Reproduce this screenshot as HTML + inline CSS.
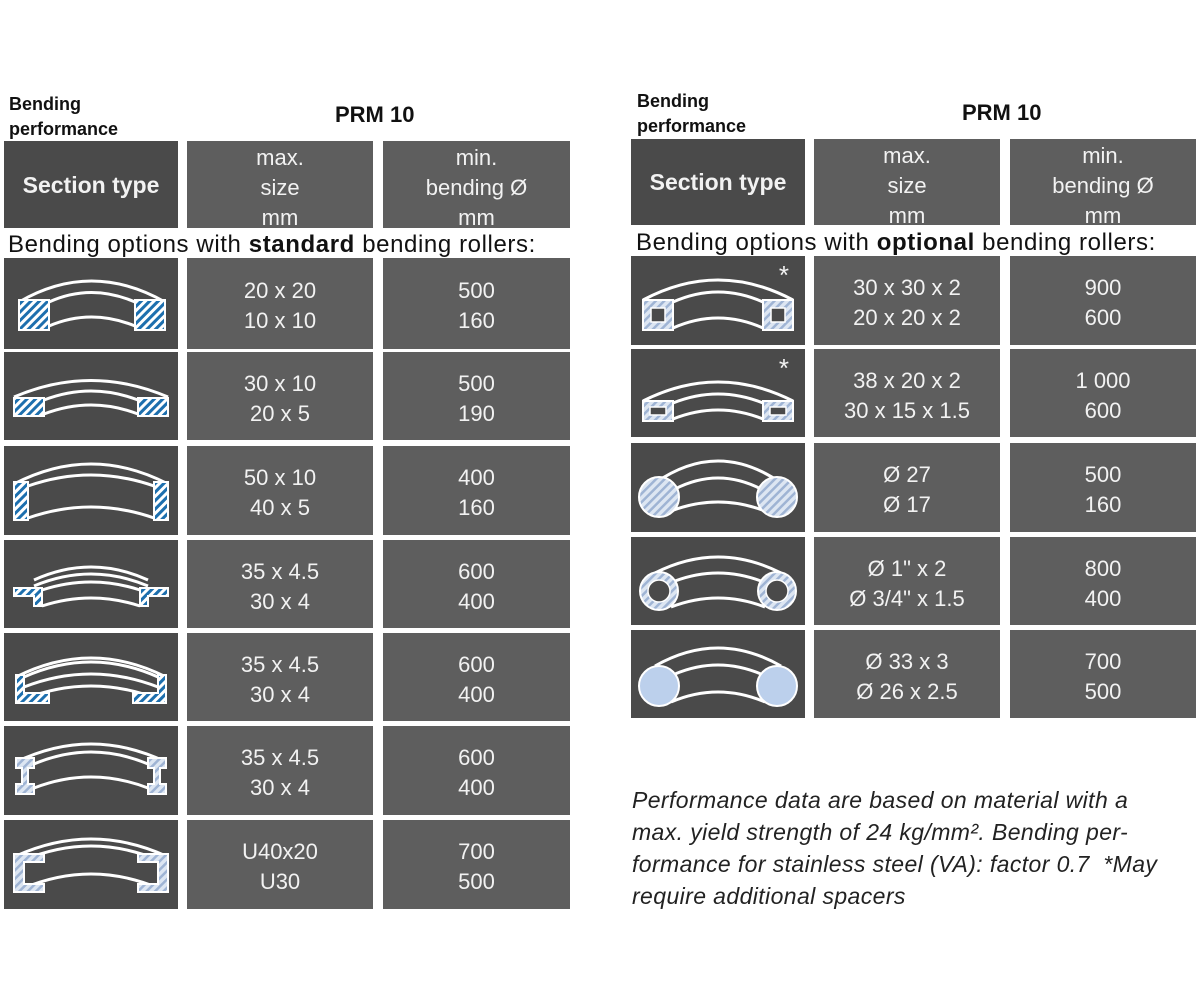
<!DOCTYPE html>
<html><head><meta charset="utf-8"><style>
*{margin:0;padding:0;box-sizing:border-box}
body{width:1200px;height:1000px;background:#fff;position:relative;overflow:hidden;font-family:"Liberation Sans",sans-serif}
.c{position:absolute;background:#5e5e5e;color:#f2f2f2;text-align:center;font-size:22px;line-height:30px;overflow:hidden;display:flex;flex-direction:column;justify-content:center;padding-top:5px}
.s{background:#4a4a4a;padding-top:0}
.h{font-weight:bold;font-size:23px}
.t{position:absolute;color:#111}
svg{position:absolute;left:0;top:0}
</style></head><body>
<svg width="0" height="0"><defs>
<pattern id="hb" width="6" height="6" patternUnits="userSpaceOnUse" patternTransform="rotate(45)"><rect width="6" height="6" fill="#fff"/><rect width="3" height="6" fill="#1d6fae"/></pattern>
<pattern id="hl" width="6" height="6" patternUnits="userSpaceOnUse" patternTransform="rotate(45)"><rect width="6" height="6" fill="#dde6f2"/><rect width="2.5" height="6" fill="#9fb4d4"/></pattern>
</defs></svg>

<div class="t" style="left:9px;top:92px;font-weight:bold;font-size:18px;line-height:25px">Bending<br>performance</div>
<div class="t" style="left:335px;top:102px;font-weight:bold;font-size:22px">PRM 10</div>
<div class="c s h" style="left:4px;top:141px;width:174px;height:87px">Section type</div>
<div class="c" style="left:187px;top:141px;width:186px;height:87px;justify-content:flex-start;padding-top:2px">max.<br>size<br>mm</div>
<div class="c" style="left:383px;top:141px;width:187px;height:87px;justify-content:flex-start;padding-top:2px">min.<br>bending Ø<br>mm</div>
<div class="t" style="left:8px;top:231px;font-size:24px;letter-spacing:0.6px">Bending options with <b>standard</b> bending rollers:</div>

<div class="c s" style="left:4px;top:258px;width:174px;height:91px"><svg width="174" height="91"><path d="M15,44 Q87,2 161,44" fill="none" stroke="#fff" stroke-width="3"/><path d="M45,44 Q87,25 131,44 M45,68 Q87,50 131,68" fill="none" stroke="#fff" stroke-width="3"/><rect x="15" y="42" width="30" height="30" fill="url(#hb)" stroke="#fff" stroke-width="2"/><rect x="131" y="42" width="30" height="30" fill="url(#hb)" stroke="#fff" stroke-width="2"/></svg></div>
<div class="c" style="left:187px;top:258px;width:186px;height:91px">20 x 20<br>10 x 10</div>
<div class="c" style="left:383px;top:258px;width:187px;height:91px">500<br>160</div>

<div class="c s" style="left:4px;top:352px;width:174px;height:88px"><svg width="174" height="88"><path d="M10,45 Q87,12 164,45" fill="none" stroke="#fff" stroke-width="3"/><path d="M40,48 Q87,30 134,48 M40,62 Q87,44 134,62" fill="none" stroke="#fff" stroke-width="3"/><rect x="10" y="46" width="30" height="18" fill="url(#hb)" stroke="#fff" stroke-width="2"/><rect x="134" y="46" width="30" height="18" fill="url(#hb)" stroke="#fff" stroke-width="2"/></svg></div>
<div class="c" style="left:187px;top:352px;width:186px;height:88px">30 x 10<br>20 x 5</div>
<div class="c" style="left:383px;top:352px;width:187px;height:88px">500<br>190</div>

<div class="c s" style="left:4px;top:446px;width:174px;height:89px"><svg width="174" height="89"><path d="M10,38 Q87,-2 164,38" fill="none" stroke="#fff" stroke-width="3"/><path d="M24,40 Q87,18 150,40 M24,72 Q87,50 150,72" fill="none" stroke="#fff" stroke-width="3"/><rect x="10" y="36" width="14" height="38" fill="url(#hb)" stroke="#fff" stroke-width="2"/><rect x="150" y="36" width="14" height="38" fill="url(#hb)" stroke="#fff" stroke-width="2"/></svg></div>
<div class="c" style="left:187px;top:446px;width:186px;height:89px">50 x 10<br>40 x 5</div>
<div class="c" style="left:383px;top:446px;width:187px;height:89px">400<br>160</div>

<div class="c s" style="left:4px;top:540px;width:174px;height:88px"><svg width="174" height="88"><path d="M30,40 Q87,14 144,40 M30,46 Q87,22 144,46" fill="none" stroke="#fff" stroke-width="3"/><path d="M38,50 Q87,34 136,50 M38,66 Q87,50 136,66" fill="none" stroke="#fff" stroke-width="3"/><path d="M10,48 H38 V66 H30 V56 H10Z" fill="url(#hb)" stroke="#fff" stroke-width="2"/><path d="M164,48 H136 V66 H144 V56 H164Z" fill="url(#hb)" stroke="#fff" stroke-width="2"/></svg></div>
<div class="c" style="left:187px;top:540px;width:186px;height:88px">35 x 4.5<br>30 x 4</div>
<div class="c" style="left:383px;top:540px;width:187px;height:88px">600<br>400</div>

<div class="c s" style="left:4px;top:633px;width:174px;height:88px"><svg width="174" height="88"><path d="M12,44 Q87,6 162,44 M20,44 Q87,14 154,44" fill="none" stroke="#fff" stroke-width="3"/><path d="M20,54 Q87,28 154,54 M20,66 Q87,40 154,66" fill="none" stroke="#fff" stroke-width="3"/><path d="M12,42 H20 V60 H45 V70 H12Z" fill="url(#hb)" stroke="#fff" stroke-width="2"/><path d="M162,42 H154 V60 H129 V70 H162Z" fill="url(#hb)" stroke="#fff" stroke-width="2"/></svg></div>
<div class="c" style="left:187px;top:633px;width:186px;height:88px">35 x 4.5<br>30 x 4</div>
<div class="c" style="left:383px;top:633px;width:187px;height:88px">600<br>400</div>

<div class="c s" style="left:4px;top:726px;width:174px;height:89px"><svg width="174" height="89"><path d="M12,36 Q87,0 162,36" fill="none" stroke="#fff" stroke-width="3"/><path d="M30,38 Q87,14 144,38 M30,62 Q87,40 144,62" fill="none" stroke="#fff" stroke-width="3"/><path d="M12,32 H30 V42 H24 V58 H30 V68 H12 V58 H18 V42 H12Z" fill="url(#hl)" stroke="#fff" stroke-width="2"/><path d="M162,32 H144 V42 H150 V58 H144 V68 H162 V58 H156 V42 H162Z" fill="url(#hl)" stroke="#fff" stroke-width="2"/></svg></div>
<div class="c" style="left:187px;top:726px;width:186px;height:89px">35 x 4.5<br>30 x 4</div>
<div class="c" style="left:383px;top:726px;width:187px;height:89px">600<br>400</div>

<div class="c s" style="left:4px;top:820px;width:174px;height:89px"><svg width="174" height="89"><path d="M12,36 Q87,2 162,36 M20,40 Q87,12 154,40" fill="none" stroke="#fff" stroke-width="3"/><path d="M20,68 Q87,40 154,68" fill="none" stroke="#fff" stroke-width="3"/><path d="M10,34 H40 V42 H20 V64 H40 V72 H10Z" fill="url(#hl)" stroke="#fff" stroke-width="2"/><path d="M164,34 H134 V42 H154 V64 H134 V72 H164Z" fill="url(#hl)" stroke="#fff" stroke-width="2"/></svg></div>
<div class="c" style="left:187px;top:820px;width:186px;height:89px">U40x20<br>U30</div>
<div class="c" style="left:383px;top:820px;width:187px;height:89px">700<br>500</div>

<!-- right -->
<div class="t" style="left:637px;top:89px;font-weight:bold;font-size:18px;line-height:25px">Bending<br>performance</div>
<div class="t" style="left:962px;top:100px;font-weight:bold;font-size:22px">PRM 10</div>
<div class="c s h" style="left:631px;top:139px;width:174px;height:86px">Section type</div>
<div class="c" style="left:814px;top:139px;width:186px;height:86px;justify-content:flex-start;padding-top:2px">max.<br>size<br>mm</div>
<div class="c" style="left:1010px;top:139px;width:186px;height:86px;justify-content:flex-start;padding-top:2px">min.<br>bending Ø<br>mm</div>
<div class="t" style="left:636px;top:229px;font-size:24px;letter-spacing:0.6px">Bending options with <b>optional</b> bending rollers:</div>

<div class="c s" style="left:631px;top:256px;width:174px;height:89px"><div style="position:absolute;right:16px;top:4px;font-size:26px">*</div><svg width="174" height="89"><path d="M12,44 Q87,4 162,44" fill="none" stroke="#fff" stroke-width="3"/><path d="M42,46 Q87,26 132,46 M42,72 Q87,52 132,72" fill="none" stroke="#fff" stroke-width="3"/><rect x="12" y="44" width="30" height="30" fill="url(#hl)" stroke="#fff" stroke-width="2"/><rect x="20" y="52" width="14" height="14" fill="#4a4a4a" stroke="#fff" stroke-width="1.5"/><rect x="132" y="44" width="30" height="30" fill="url(#hl)" stroke="#fff" stroke-width="2"/><rect x="140" y="52" width="14" height="14" fill="#4a4a4a" stroke="#fff" stroke-width="1.5"/></svg></div>
<div class="c" style="left:814px;top:256px;width:186px;height:89px">30 x 30 x 2<br>20 x 20 x 2</div>
<div class="c" style="left:1010px;top:256px;width:186px;height:89px">900<br>600</div>

<div class="c s" style="left:631px;top:349px;width:174px;height:88px"><div style="position:absolute;right:16px;top:4px;font-size:26px">*</div><svg width="174" height="88"><path d="M12,52 Q87,14 162,52" fill="none" stroke="#fff" stroke-width="3"/><path d="M42,54 Q87,36 132,54 M42,70 Q87,52 132,70" fill="none" stroke="#fff" stroke-width="3"/><rect x="12" y="52" width="30" height="20" fill="url(#hl)" stroke="#fff" stroke-width="2"/><rect x="19" y="58" width="16" height="8" fill="#4a4a4a" stroke="#fff" stroke-width="1.5"/><rect x="132" y="52" width="30" height="20" fill="url(#hl)" stroke="#fff" stroke-width="2"/><rect x="139" y="58" width="16" height="8" fill="#4a4a4a" stroke="#fff" stroke-width="1.5"/></svg></div>
<div class="c" style="left:814px;top:349px;width:186px;height:88px">38 x 20 x 2<br>30 x 15 x 1.5</div>
<div class="c" style="left:1010px;top:349px;width:186px;height:88px">1 000<br>600</div>

<div class="c s" style="left:631px;top:443px;width:174px;height:89px"><svg width="174" height="89"><path d="M24,40 Q87,-4 150,40 M44,46 Q87,24 130,46 M40,68 Q87,50 134,68" fill="none" stroke="#fff" stroke-width="3"/><circle cx="28" cy="54" r="20" fill="url(#hl)" stroke="#fff" stroke-width="2"/><circle cx="146" cy="54" r="20" fill="url(#hl)" stroke="#fff" stroke-width="2"/></svg></div>
<div class="c" style="left:814px;top:443px;width:186px;height:89px">Ø 27<br>Ø 17</div>
<div class="c" style="left:1010px;top:443px;width:186px;height:89px">500<br>160</div>

<div class="c s" style="left:631px;top:537px;width:174px;height:88px"><svg width="174" height="88"><path d="M24,36 Q87,4 150,36 M44,44 Q87,28 130,44 M40,70 Q87,52 134,70" fill="none" stroke="#fff" stroke-width="3"/><circle cx="28" cy="54" r="19" fill="url(#hl)" stroke="#fff" stroke-width="2"/><circle cx="28" cy="54" r="11" fill="#4a4a4a" stroke="#fff" stroke-width="1.5"/><circle cx="146" cy="54" r="19" fill="url(#hl)" stroke="#fff" stroke-width="2"/><circle cx="146" cy="54" r="11" fill="#4a4a4a" stroke="#fff" stroke-width="1.5"/></svg></div>
<div class="c" style="left:814px;top:537px;width:186px;height:88px">Ø 1" x 2<br>Ø 3/4" x 1.5</div>
<div class="c" style="left:1010px;top:537px;width:186px;height:88px">800<br>400</div>

<div class="c s" style="left:631px;top:630px;width:174px;height:88px"><svg width="174" height="88"><path d="M24,36 Q87,0 150,36 M44,44 Q87,26 130,44 M40,72 Q87,52 134,72" fill="none" stroke="#fff" stroke-width="3"/><circle cx="28" cy="56" r="20" fill="#bcd0ec" stroke="#fff" stroke-width="2"/><circle cx="146" cy="56" r="20" fill="#bcd0ec" stroke="#fff" stroke-width="2"/></svg></div>
<div class="c" style="left:814px;top:630px;width:186px;height:88px">Ø 33 x 3<br>Ø 26 x 2.5</div>
<div class="c" style="left:1010px;top:630px;width:186px;height:88px">700<br>500</div>

<div class="t" style="left:632px;top:784px;font-size:23px;line-height:32px;font-style:italic;color:#222;letter-spacing:0.4px">Performance data are based on material with a<br>max. yield strength of 24 kg/mm². Bending per-<br>formance for stainless steel (VA): factor 0.7&nbsp; *May<br>require additional spacers</div>
</body></html>
